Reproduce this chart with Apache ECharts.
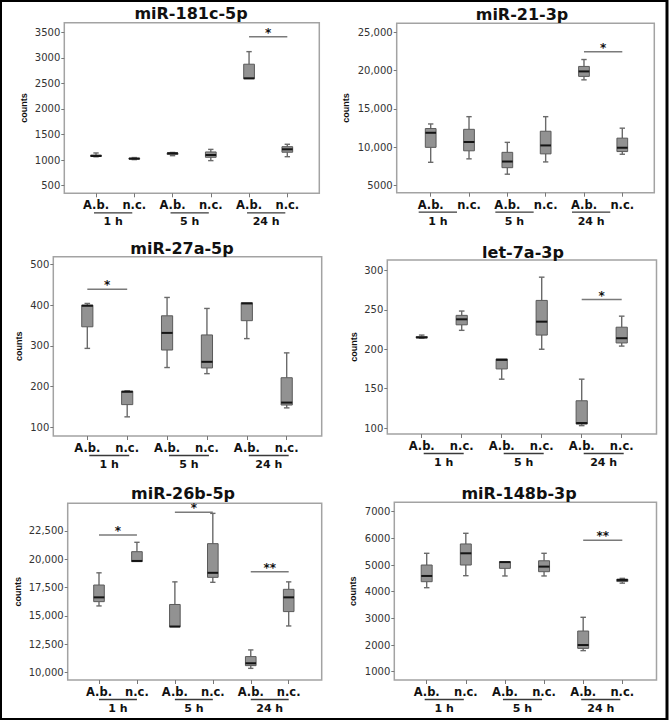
<!DOCTYPE html>
<html><head><meta charset="utf-8">
<script src="https://cdn.jsdelivr.net/npm/echarts@6/dist/echarts.min.js"></script>
<style>html,body{margin:0;padding:0;background:#fff}#c{width:669px;height:720px}</style>
</head><body><div id="c"></div><script>
// ---------- DATA ----------
const titles = ['miR-181c-5p', 'miR-21-3p', 'miR-27a-5p', 'let-7a-3p', 'miR-26b-5p', 'miR-148b-3p'];
const groupLabels = ['A.b.', 'n.c.', 'A.b.', 'n.c.', 'A.b.', 'n.c.'];
const timeLabels = ['1 h', '5 h', '24 h'];
const positions = [1, 2, 3, 4, 5, 6];
const timePairs = [[1, 2], [3, 4], [5, 6]];
const yName = 'counts';

// box stats per group: [min, q1, median, q3, max]
// order: A.b. 1h, n.c. 1h, A.b. 5h, n.c. 5h, A.b. 24h, n.c. 24h
const mir181c = [[1065,1072,1080,1100,1140],[1010,1020,1028,1040,1050],[1087,1110,1135,1140,1150],[990,1055,1100,1160,1210],[2588,2592,2600,2876,3122],[1067,1154,1212,1263,1310]];
const mir21   = [[8050,10000,11900,12450,13050],[8500,9550,10700,12350,14000],[6500,7350,8150,9350,10650],[8100,9150,10250,12100,14000],[18800,19250,19900,20550,21450],[9100,9450,9950,11200,12500]];
const mir27a  = [[294,347,398.6,400.2,404.3],[126,156,187.5,189,190],[247,290,332,374,419],[232,246,261,327,392],[318,362,404.3,406,406.5],[148,155,161,222,283]];
const let7a   = [[214,214.5,215,216,218],[224,231,238,243,248.5],[162,175,186.5,187.7,188],[200,218,235,262,291.5],[103,105,106.3,134.6,162],[204,208,214,228,242]];
const mir26b  = [[15870,16250,16630,17720,18800],[19790,19790,19850,20670,21500],[14000,14020,14050,16000,18000],[17960,18400,18800,21380,24060],[10350,10590,10800,11390,11980],[14100,15370,16630,17340,18000]];
const mir148b = [[4150,4375,4590,5000,5440],[4600,5000,5440,5790,6190],[4590,4875,5110,5125,5130],[4590,4750,4940,5160,5440],[1790,1875,2000,2525,3040],[4320,4380,4440,4470,4500]];

// significance bars: [from position, to position, value, marker]
const sig181c = [[5, 6, 3415, '*']];
const sig21   = [[5, 6, 22480, '*']];
const sig27a  = [[1, 2, 439, '*']];
const sig7a   = [[5, 6, 263, '*']];
const sig26b  = [[1, 2, 22150, '*'], [3, 4, 24150, '*'], [5, 6, 18900, '**']];
const sig148b = [[5, 6, 5925, '**']];

// y tick values and labels
const ticks181c = [500, 1000, 1500, 2000, 2500, 3000, 3500];
const tickLabels181c = ['500', '1000', '1500', '2000', '2500', '3000', '3500'];
const ticks21 = [5000, 10000, 15000, 20000, 25000];
const tickLabels21 = ['5000', '10,000', '15,000', '20,000', '25,000'];
const ticks27a = [100, 200, 300, 400, 500];
const tickLabels27a = ['100', '200', '300', '400', '500'];
const ticks7a = [100, 150, 200, 250, 300];
const tickLabels7a = ['100', '150', '200', '250', '300'];
const ticks26b = [10000, 12500, 15000, 17500, 20000, 22500];
const tickLabels26b = ['10,000', '12,500', '15,000', '17,500', '20,000', '22,500'];
const ticks148b = [1000, 2000, 3000, 4000, 5000, 6000, 7000];
const tickLabels148b = ['1000', '2000', '3000', '4000', '5000', '6000', '7000'];

// ---------- LAYOUT ----------
const panels = [
  { stats: mir181c, sig: sig181c, ticks: ticks181c, labels: tickLabels181c, grid: [64.3, 22.7, 255, 170.6], x: [0.171, 6.836], y: [351, 3688], nameGap: 36, title: [191, 5], ul: -2 },
  { stats: mir21, sig: sig21, ticks: ticks21, labels: tickLabels21, grid: [396.7, 23.3, 257.6, 169.4], x: [0.113, 6.835], y: [4087, 26173], nameGap: 46, title: [522, 6], ul: -12 },
  { stats: mir27a, sig: sig27a, ticks: ticks27a, labels: tickLabels27a, grid: [53.3, 256.7, 268.4, 179.3], x: [0.147, 6.878], y: [79, 519], nameGap: 30, title: [182, 240], ul: 2 },
  { stats: let7a, sig: sig7a, ticks: ticks7a, labels: tickLabels7a, grid: [387.3, 260, 269.2, 174], x: [0.14, 6.87], y: [92.4, 313.3], nameGap: 29, title: [523, 244], ul: 2 },
  { stats: mir26b, sig: sig26b, ticks: ticks26b, labels: tickLabels26b, grid: [67.7, 503.3, 254, 176.7], x: [0.175, 6.87], y: [9319, 24950], nameGap: 45, title: [183, 485], ul: 0 },
  { stats: mir148b, sig: sig148b, ticks: ticks148b, labels: tickLabels148b, grid: [394.3, 502.3, 262.2, 177.7], x: [0.172, 6.874], y: [689, 7352], nameGap: 37, title: [519, 485], ul: -2 }
];

const FONT = '"DejaVu Sans", sans-serif';
const BOX_W = 0.28, CAP_W = 0.14;
const INK = '#111111';

function renderBox(params, api) {
  const x = api.value(0);
  const pMin = api.coord([x, api.value(1)]);
  const pQ1 = api.coord([x, api.value(2)]);
  const pMed = api.coord([x, api.value(3)]);
  const pQ3 = api.coord([x, api.value(4)]);
  const pMax = api.coord([x, api.value(5)]);
  const bw = api.size([BOX_W, 0])[0];
  const cw = api.size([CAP_W, 0])[0];
  const cx = pMed[0];
  const wStyle = { stroke: '#6a6a6a', lineWidth: 1.4, fill: null };
  const ch = [];
  if (pQ3[1] - pMax[1] > 0.3) {
    ch.push({ type: 'line', shape: { x1: cx, y1: pMax[1], x2: cx, y2: pQ3[1] }, style: wStyle });
    ch.push({ type: 'line', shape: { x1: cx - cw / 2, y1: pMax[1], x2: cx + cw / 2, y2: pMax[1] }, style: wStyle });
  }
  if (pMin[1] - pQ1[1] > 0.3) {
    ch.push({ type: 'line', shape: { x1: cx, y1: pQ1[1], x2: cx, y2: pMin[1] }, style: wStyle });
    ch.push({ type: 'line', shape: { x1: cx - cw / 2, y1: pMin[1], x2: cx + cw / 2, y2: pMin[1] }, style: wStyle });
  }
  ch.push({ type: 'rect', shape: { x: cx - bw / 2, y: pQ3[1], width: bw, height: Math.max(pQ1[1] - pQ3[1], 1) },
            style: { fill: '#929292', stroke: '#5a5a5a', lineWidth: 1 } });
  ch.push({ type: 'line', shape: { x1: cx - bw / 2, y1: pMed[1], x2: cx + bw / 2, y2: pMed[1] },
            style: { stroke: '#151515', lineWidth: 2, fill: null } });
  return { type: 'group', children: ch };
}

function makeSigRender(sig) {
  return function (params, api) {
    const p1 = api.coord([api.value(0), api.value(2)]);
    const p2 = api.coord([api.value(1), api.value(2)]);
    return { type: 'group', children: [
      { type: 'line', shape: { x1: p1[0], y1: p1[1], x2: p2[0], y2: p2[1] }, style: { stroke: '#7a7a7a', lineWidth: 1.5, fill: null } },
      { type: 'text', style: { x: (p1[0] + p2[0]) / 2, y: p1[1] - 4, text: sig[params.dataIndex][3],
        fill: INK, fontFamily: FONT, fontWeight: 'bold', fontSize: 12, align: 'center', verticalAlign: 'middle' } }
    ] };
  };
}

function makeGroupRender(panel) {
  return function (params, api) {
    const cs = params.coordSys;
    const bottom = cs.y + cs.height;
    const xa = api.coord([api.value(0), panel.y[0]])[0] + panel.ul;
    const xb = api.coord([api.value(1), panel.y[0]])[0] + panel.ul;
    return { type: 'group', children: [
      { type: 'line', shape: { x1: xa, y1: bottom + 19.5, x2: xb, y2: bottom + 19.5 }, style: { stroke: '#3a3a3a', lineWidth: 1.3, fill: null } },
      { type: 'text', style: { x: (xa + xb) / 2, y: bottom + 28.5, text: timeLabels[params.dataIndex],
        fill: INK, fontFamily: FONT, fontWeight: 'bold', fontSize: 11, align: 'center', verticalAlign: 'middle' } }
    ] };
  };
}

const option = {
  backgroundColor: '#fff',
  animation: false,
  color: ['#111111'],
  title: panels.map((p, i) => ({
    text: titles[i], left: p.title[0], top: p.title[1], textAlign: 'center', padding: 0,
    textStyle: { fontFamily: FONT, fontWeight: 'bold', fontSize: 16, lineHeight: 16, color: INK }
  })),
  grid: panels.map(p => ({
    left: p.grid[0], top: p.grid[1], width: p.grid[2], height: p.grid[3],
    show: true, borderColor: '#a3a3a3', borderWidth: 1.5, backgroundColor: 'transparent'
  })),
  xAxis: panels.map((p, i) => ({
    type: 'value', gridIndex: i, min: p.x[0], max: p.x[1],
    axisLine: { show: false }, splitLine: { show: false },
    axisTick: { show: true, customValues: positions, length: 4, lineStyle: { color: '#777' } },
    axisLabel: { customValues: positions, formatter: v => groupLabels[Math.round(v) - 1],
      fontFamily: FONT, fontWeight: 'bold', fontSize: 11.5, color: INK, margin: 6 }
  })),
  yAxis: panels.map((p, i) => ({
    type: 'value', gridIndex: i, min: p.y[0], max: p.y[1],
    name: yName, nameLocation: 'middle', nameRotate: 90, nameGap: p.nameGap,
    nameTextStyle: { fontFamily: 'Liberation Sans', fontWeight: 'bold', fontSize: 9, color: INK },
    axisLine: { show: false }, splitLine: { show: false },
    axisTick: { show: true, customValues: p.ticks, length: 3, lineStyle: { color: '#777' } },
    axisLabel: { customValues: p.ticks, formatter: v => p.labels[p.ticks.indexOf(v)],
      fontFamily: FONT, fontSize: 10, color: '#333', margin: 4 }
  })),
  series: [].concat(
    panels.map((p, i) => ({
      type: 'custom', xAxisIndex: i, yAxisIndex: i, itemStyle: { color: '#929292' },
      data: p.stats.map((s, k) => [positions[k]].concat(s)),
      encode: { x: 0, y: [1, 2, 3, 4, 5] },
      renderItem: renderBox, z: 3
    })),
    panels.map((p, i) => ({
      type: 'custom', xAxisIndex: i, yAxisIndex: i, itemStyle: { color: INK },
      data: p.sig.map(s => [s[0], s[1], s[2]]),
      encode: { x: [0, 1], y: 2 },
      renderItem: makeSigRender(p.sig), z: 4
    })),
    panels.map((p, i) => ({
      type: 'custom', xAxisIndex: i, yAxisIndex: i, clip: false, itemStyle: { color: INK },
      data: timePairs.map(tp => [tp[0], tp[1]]),
      encode: { x: [0, 1] },
      renderItem: makeGroupRender(p), z: 4
    }))
  ),
  graphic: [
    { type: 'rect', shape: { x: 1, y: 1, width: 666, height: 718 }, style: { fill: 'none', stroke: '#000', lineWidth: 2 }, z: 10 },
    { type: 'line', shape: { x1: 667, y1: 0, x2: 667, y2: 720 }, style: { stroke: '#000', lineWidth: 3 }, z: 10 }
  ]
};

const chart = echarts.init(document.getElementById('c'), null, { renderer: 'svg' });
chart.setOption(option);
</script></body></html>
